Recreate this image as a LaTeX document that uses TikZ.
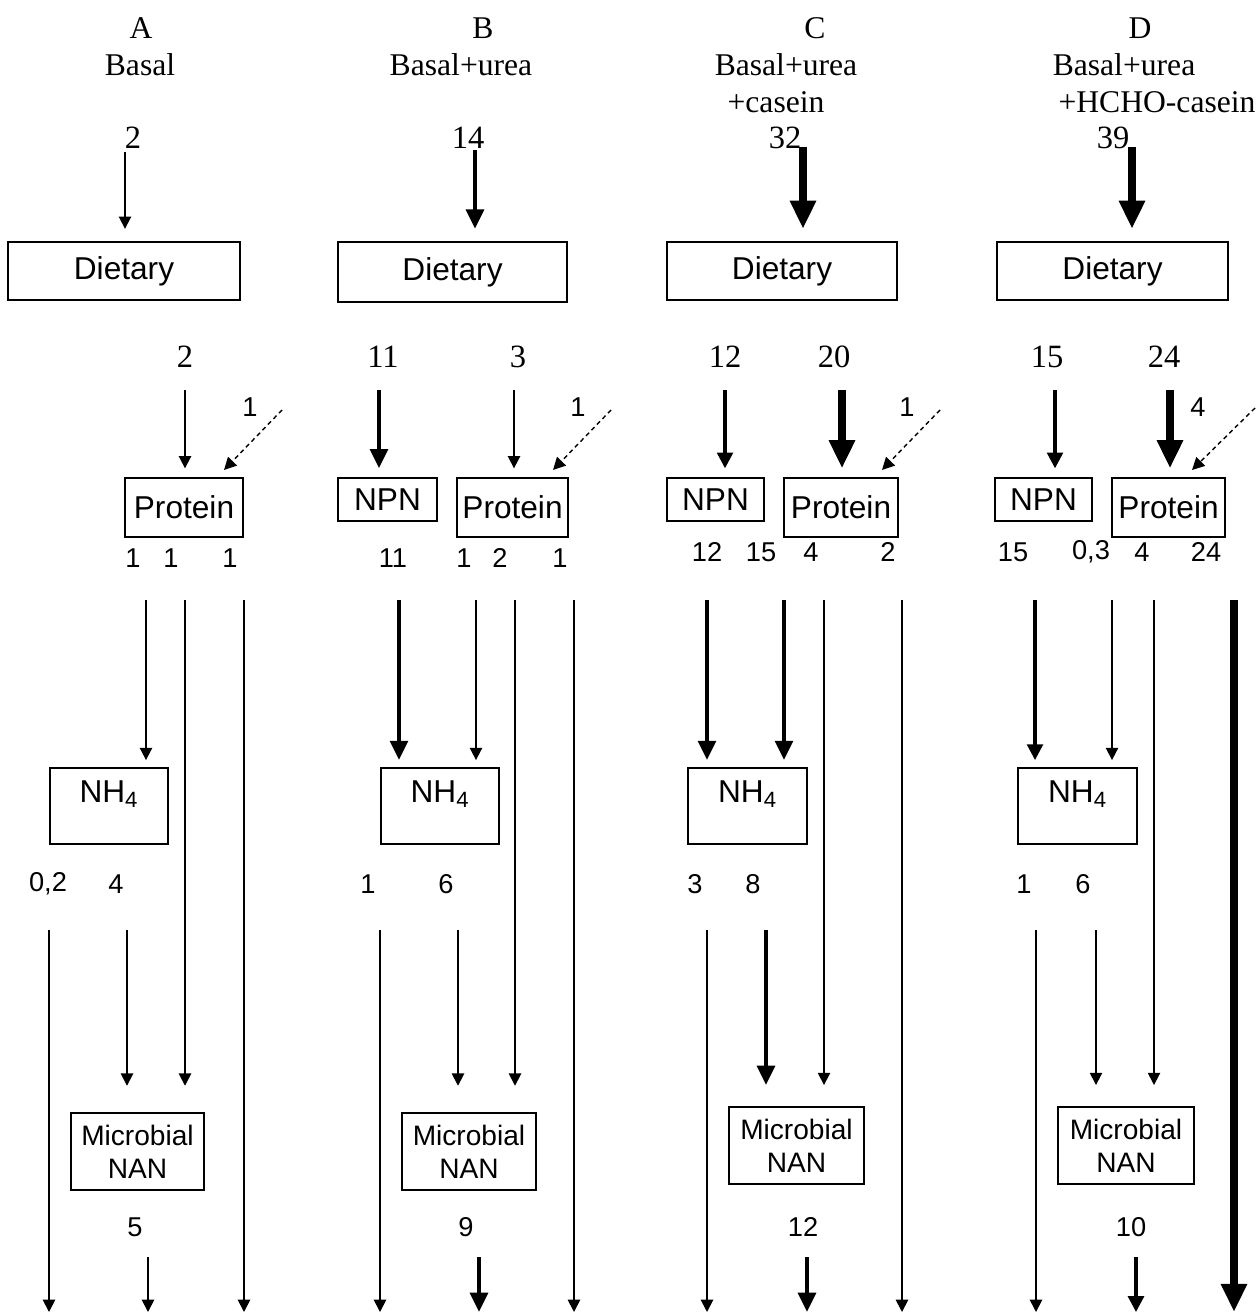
\documentclass[tikz,border=0pt]{standalone}
\usepackage{fontspec}
\setmainfont{Liberation Serif}
\setsansfont{Liberation Sans}
\usetikzlibrary{arrows.meta}
\newcommand\mybox[6]{\node[box, minimum width={(#4-#2)*0.02cm}, minimum height={(#5-#3)*0.02cm}] (#1) at ({(#2+#4)/2},{(#3+#5)/2}) {#6};}
\newcommand\conn[6]{\coordinate (#1) at (#2,#3); \draw[#4, shorten >=#6] (#1) -- (#1 |- #5.north);}
\newcommand\free[5]{\coordinate (#1s) at (#2,#3); \coordinate (#1e) at (#2,#4); \draw[#5] (#1s) -- (#1e);}
\begin{document}
\begin{tikzpicture}[x=0.02cm,y=-0.02cm,
  box/.style={draw, line width=1pt, inner sep=0pt, align=center, font=\sffamily\fontsize{18}{20}\selectfont},
  tA/.style={-{Triangle[length=7pt,width=7pt]}, line width=1pt},
  tB/.style={-{Triangle[length=9pt,width=9pt]}, line width=1.8pt},
  tC/.style={-{Triangle[length=11pt,width=10pt]}, line width=2.5pt},
  tD/.style={-{Triangle[length=16pt,width=14pt]}, line width=4.5pt},
  tE/.style={-{Triangle[length=16pt,width=14pt]}, line width=5pt},
  dsh/.style={-{Triangle[length=7pt,width=7pt]}, line width=0.8pt, dash pattern=on 2.5pt off 2pt},
  hd/.style={font=\fontsize{18}{21}\selectfont, align=center, inner sep=0pt},
  sn/.style={font=\fontsize{18.5}{20}\selectfont, inner sep=0pt},
  ss/.style={font=\sffamily\fontsize{15.5}{17}\selectfont, inner sep=0pt},
  sm/.style={font=\sffamily\fontsize{15.5}{17}\selectfont, inner sep=0pt},
  ml/.style={inner sep=0pt, align=center, font=\sffamily\fontsize{16}{19}\selectfont},
]
\useasboundingbox (0,0) rectangle (1258,1314);

% headers
\node[hd] (hA) at (141,28) {A};
\node[hd] (hAt) at (140,65) {Basal};
\node[hd] (hB) at (483,28) {B};
\node[hd] (hBt) at (461,65) {Basal+urea};
\node[hd] (hC) at (815,28) {C};
\node[hd] (hCt) at (786,65) {Basal+urea};
\node[hd] (hCt2) at (776,102) {+casein};
\node[hd] (hD) at (1140,28) {D};
\node[hd] (hDt) at (1124,65) {Basal+urea};
\node[hd] (hDt2) at (1157,102) {+HCHO-casein};

% top numbers
\node[sn] (nA) at (133,138) {2};
\node[sn] (nB) at (468,138) {14};
\node[sn] (nC) at (785,138) {32};
\node[sn] (nD) at (1113,138) {39};

% dietary boxes
\mybox{dA}{8}{242}{240}{300}{Dietary}
\mybox{dB}{338}{242}{567}{302}{Dietary}
\mybox{dC}{667}{242}{897}{300}{Dietary}
\mybox{dD}{997}{242}{1228}{300}{Dietary}

\conn{tAa}{125}{152}{tA}{dA}{7pt}
\conn{tBa}{475}{150}{tC}{dB}{7pt}
\conn{tCa}{803}{147}{tD}{dC}{7pt}
\conn{tDa}{1132}{147}{tD}{dD}{7pt}

% second row numbers
\node[sn] at (185,357) {2};
\node[sn] at (383,357) {11};
\node[sn] at (518,357) {3};
\node[sn] at (725,357) {12};
\node[sn] at (834,357) {20};
\node[sn] at (1047,357) {15};
\node[sn] at (1164,357) {24};

% protein / NPN boxes
\mybox{pA}{125}{478}{243}{537}{Protein}
\mybox{npB}{338}{478}{437}{521}{NPN}
\mybox{pB}{457}{478}{568}{537}{Protein}
\mybox{npC}{667}{478}{764}{521}{NPN}
\mybox{pC}{784}{478}{898}{537}{Protein}
\mybox{npD}{995}{478}{1092}{521}{NPN}
\mybox{pD}{1112}{478}{1225}{537}{Protein}

\conn{rA1}{185}{390}{tA}{pA}{5pt}
\conn{rB1}{379}{390}{tC}{npB}{5pt}
\conn{rB2}{514}{390}{tA}{pB}{5pt}
\conn{rC1}{725}{390}{tB}{npC}{5pt}
\conn{rC2}{842}{390}{tD}{pC}{5pt}
\conn{rD1}{1055}{390}{tB}{npD}{5pt}
\conn{rD2}{1170}{390}{tD}{pD}{5pt}

% dashed inputs
\coordinate (dsA) at (282,410); \coordinate (deA) at (224,470); \draw[dsh] (dsA) -- (deA);
\coordinate (dsB) at (611,410); \coordinate (deB) at (553,470); \draw[dsh] (dsB) -- (deB);
\coordinate (dsC) at (940,410); \coordinate (deC) at (882,470); \draw[dsh] (dsC) -- (deC);
\coordinate (dsD) at (1255,408); \coordinate (deD) at (1192,470); \draw[dsh] (dsD) -- (deD);
\node[ss] at (250,407) {1};
\node[ss] at (578,407) {1};
\node[ss] at (907,407) {1};
\node[ss] at (1198,407) {4};

% numbers under protein row
\node[ss] at (133,558) {1};
\node[ss] at (171,558) {1};
\node[ss] at (230,558) {1};
\node[ss] at (393,558) {11};
\node[ss] at (464,558) {1};
\node[ss] at (500,558) {2};
\node[ss] at (560,558) {1};
\node[ss] at (707,552) {12};
\node[ss] at (761,552) {15};
\node[ss] at (811,552) {4};
\node[ss] at (888,552) {2};
\node[ss] at (1013,552) {15};
\node[ss] at (1091,552) {0,3};
\node[ss] at (1142,552) {4};
\node[ss] at (1206,552) {24};

% NH4 boxes
\mybox{hA4}{50}{768}{168}{844}{}
\mybox{hB4}{381}{768}{499}{844}{}
\mybox{hC4}{688}{768}{807}{844}{}
\mybox{hD4}{1018}{768}{1137}{844}{}
\foreach \x in {109, 440, 747.5, 1077.5}
  \node[font=\sffamily\fontsize{18}{20}\selectfont, inner sep=0pt] at (\x,794) {NH\textsubscript{4}};

% microbial boxes
\mybox{mA}{71}{1113}{204}{1190}{}
\mybox{mB}{402}{1113}{536}{1190}{}
\mybox{mC}{729}{1107}{864}{1184}{}
\mybox{mD}{1058}{1107}{1194}{1184}{}
\foreach \n in {mA,mB,mC,mD}
  \node[ml] at (\n) {Microbial\\NAN};

% row 3 arrows
\conn{qA1}{146}{600}{tA}{hA4}{4pt}
\conn{qA2}{185}{600}{tA}{mA}{15pt}
\free{qA3}{244}{600}{1312}{tA}
\conn{qB1}{399}{600}{tC}{hB4}{4pt}
\conn{qB2}{476}{600}{tA}{hB4}{4pt}
\conn{qB3}{515}{600}{tA}{mB}{15pt}
\free{qB4}{574}{600}{1312}{tA}
\conn{qC1}{707}{600}{tC}{hC4}{4pt}
\conn{qC2}{784}{600}{tC}{hC4}{4pt}
\conn{qC3}{824}{600}{tA}{mC}{12pt}
\free{qC4}{902}{600}{1312}{tA}
\conn{qD1}{1035}{600}{tB}{hD4}{4pt}
\conn{qD2}{1112}{600}{tA}{hD4}{4pt}
\conn{qD3}{1154}{600}{tA}{mD}{12pt}
\free{qD4}{1234}{600}{1312}{tE}

% row 4 numbers
\node[sm] at (48,884) {0,2};
\node[sm] at (116,884) {4};
\node[sm] at (368,884) {1};
\node[sm] at (446,884) {6};
\node[sm] at (695,884) {3};
\node[sm] at (753,884) {8};
\node[sm] at (1024,884) {1};
\node[sm] at (1083,884) {6};

% row 4 arrows
\free{wA1}{49}{930}{1312}{tA}
\conn{wA2}{127}{930}{tA}{mA}{15pt}
\free{wB1}{380}{930}{1312}{tA}
\conn{wB2}{458}{930}{tA}{mB}{15pt}
\free{wC1}{707}{930}{1312}{tA}
\conn{wC2}{766}{930}{tC}{mC}{12pt}
\free{wD1}{1036}{930}{1312}{tA}
\conn{wD2}{1096}{930}{tA}{mD}{12pt}

% bottom numbers
\node[sm] at (135,1227) {5};
\node[sm] at (466,1227) {9};
\node[sm] at (803,1227) {12};
\node[sm] at (1131,1227) {10};

\free{bA}{148}{1257}{1312}{tA}
\free{bB}{479}{1257}{1312}{tC}
\free{bC}{807}{1257}{1312}{tC}
\free{bD}{1136}{1257}{1312}{tB}
\end{tikzpicture}
\end{document}
